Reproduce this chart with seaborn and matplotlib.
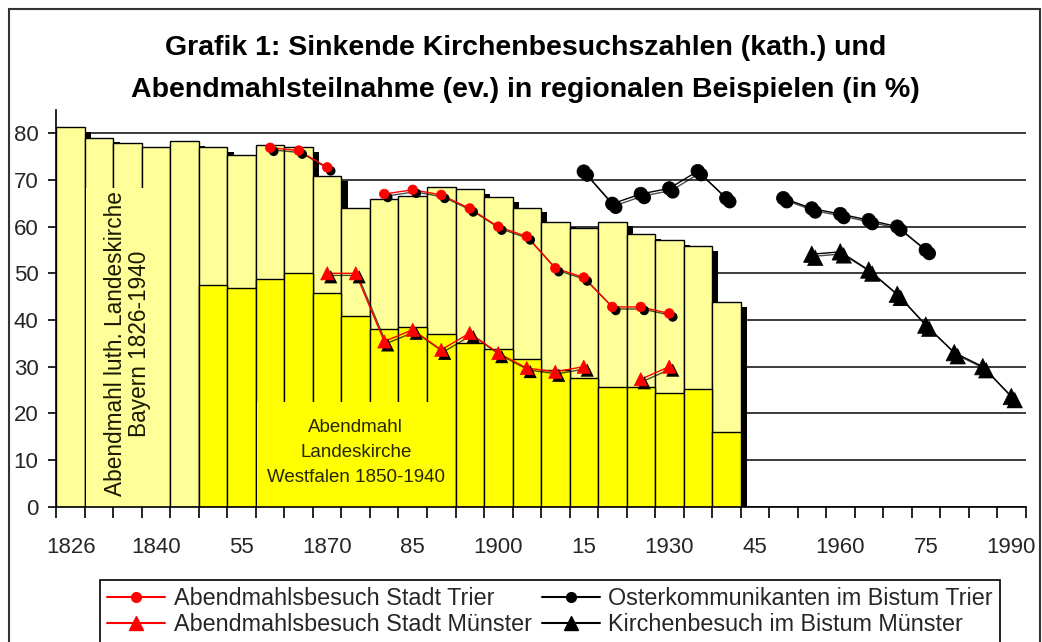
import matplotlib
matplotlib.use("Agg")
import matplotlib.pyplot as plt
import matplotlib.patheffects as pe
from matplotlib.lines import Line2D
from matplotlib.patches import Rectangle
import numpy as np
import pandas as pd
import seaborn as sns

# ---------------- data ----------------
categories = [1826, 1830, 1835, 1840, 1845, 1850, 1855, 1860, 1865, 1870, 1875,
              1880, 1885, 1890, 1895, 1900, 1905, 1910, 1915, 1920, 1925, 1930,
              1935, 1940, 1945, 1950, 1955, 1960, 1965, 1970, 1975, 1980, 1985, 1990]
tick_years = [1826, 1840, 1855, 1870, 1885, 1900, 1915, 1930, 1945, 1960, 1975, 1990]
tick_labels = ["1826", "1840", "55", "1870", "85", "1900", "15", "1930", "45", "1960", "75", "1990"]

bayern_years = [1826, 1830, 1835, 1840, 1845, 1850, 1855, 1860, 1865, 1870, 1875, 1880,
                1885, 1890, 1895, 1900, 1905, 1910, 1915, 1920, 1925, 1930, 1935, 1940]
bayern_vals = [81.4, 79.1, 78.0, 77.0, 78.4, 77.0, 75.4, 77.5, 77.0, 70.9, 64.1, 65.9,
               66.6, 68.4, 68.0, 66.3, 64.1, 60.9, 59.8, 61.1, 58.4, 57.1, 55.9, 43.9]

westfalen_years = [1850, 1855, 1860, 1865, 1870, 1875, 1880, 1885, 1890, 1895, 1900,
                   1905, 1910, 1915, 1920, 1925, 1930, 1935, 1940]
westfalen_vals = [47.4, 46.9, 48.7, 50.0, 45.7, 40.9, 38.0, 38.4, 37.1, 35.0, 33.7,
                  31.6, 29.3, 27.6, 25.6, 25.6, 24.3, 25.2, 16.1]

trier_ab_years = [1860, 1865, 1870, 1875, 1880, 1885, 1890, 1895, 1900, 1905, 1910,
                  1915, 1920, 1925, 1930]
trier_ab_vals = [76.9, 76.3, 72.7, np.nan, 67.0, 67.9, 66.8, 63.9, 60.0, 57.9, 51.1,
                 49.1, 42.8, 42.8, 41.4]

muenster_ab_years = [1870, 1875, 1880, 1885, 1890, 1895, 1900, 1905, 1910, 1915, 1920,
                     1925, 1930]
muenster_ab_vals = [50.0, 50.0, 35.4, 37.9, 33.6, 37.2, 32.9, 29.7, 28.9, 30.0, np.nan,
                    27.3, 30.0]

oster_years = [1915, 1920, 1925, 1930, 1935, 1940, 1945, 1950, 1955, 1960, 1965, 1970, 1975]
oster_vals = [71.8, 64.9, 67.0, 68.2, 71.9, 66.1, np.nan, 66.1, 63.9, 62.7, 61.4, 60.0, 55.0]

kirch_years = [1955, 1960, 1965, 1970, 1975, 1980, 1985, 1990]
kirch_vals = [54.1, 54.6, 50.7, 45.5, 38.9, 33.0, 30.0, 23.6]

legend_labels = ["Abendmahlsbesuch Stadt Trier", "Abendmahlsbesuch Stadt Münster",
                 "Osterkommunikanten im Bistum Trier", "Kirchenbesuch im Bistum Münster"]
title_lines = ["Grafik 1: Sinkende Kirchenbesuchszahlen (kath.) und",
               "Abendmahlsteilnahme (ev.) in regionalen Beispielen (in %)"]
bayern_label = "Abendmahl luth. Landeskirche\nBayern 1826-1940"
westfalen_label = "Abendmahl\nLandeskirche\nWestfalen 1850-1940"

# ---------------- style ----------------
sns.set_style("white")
plt.rcParams["font.family"] = ["Liberation Sans", "DejaVu Sans"]

fig = plt.figure(figsize=(10.42, 6.42), dpi=100)
ax = fig.add_axes([0.0542, 0.2108, 0.9300, 0.6179])

pos = {y: i for i, y in enumerate(categories)}

# bars: Bayern (light yellow, with shadow)
df_bay = pd.DataFrame({"x": [pos[y] for y in bayern_years], "v": bayern_vals})
sns.barplot(data=df_bay, x="x", y="v", native_scale=True, orient="x", width=1,
            color="#FFFF99", saturation=1, edgecolor="black", linewidth=1,
            errorbar=None, ax=ax, zorder=2)
shadow = [pe.SimplePatchShadow(offset=(4.5, -3.5), shadow_rgbFace="black", alpha=1),
          pe.Normal()]
for p in ax.patches:
    p.set_path_effects(shadow)

# bars: Westfalen (yellow)
df_wf = pd.DataFrame({"x": [pos[y] for y in westfalen_years], "v": westfalen_vals})
sns.barplot(data=df_wf, x="x", y="v", native_scale=True, orient="x", width=1,
            color="#FFFF00", saturation=1, edgecolor="black", linewidth=1,
            errorbar=None, ax=ax, zorder=3)


def draw_series(years, vals, color, marker, size):
    d = pd.DataFrame({"x": [pos[y] for y in years], "v": vals})
    d["seg"] = d["v"].isna().cumsum()
    d = d.dropna()
    n0 = len(ax.lines)
    sns.lineplot(data=d, x="x", y="v", units="seg", estimator=None, color=color,
                 linewidth=1.0, ax=ax, legend=False, zorder=5)
    for ln in ax.lines[n0:]:
        ln.set_path_effects([pe.SimpleLineShadow(offset=(1.5, -1.5), shadow_color="black",
                                                 alpha=0.7), pe.Normal()])
    n1 = len(ax.collections)
    sns.scatterplot(data=d, x="x", y="v", marker=marker, s=size, color=color,
                    edgecolor=color, linewidth=0.5, ax=ax, legend=False, zorder=6)
    for c in ax.collections[n1:]:
        c.set_path_effects([pe.SimplePatchShadow(offset=(2.5, -2.5), shadow_rgbFace="black",
                                                 alpha=1), pe.Normal()])


draw_series(trier_ab_years, trier_ab_vals, "#FF0000", "o", 48)
draw_series(muenster_ab_years, muenster_ab_vals, "#FF0000", "^", 90)
draw_series(oster_years, oster_vals, "black", "o", 95)
draw_series(kirch_years, kirch_vals, "black", "^", 140)

# label boxes
ax.add_patch(Rectangle((pos[1830] - 0.45, 0), 2.9, 68.3, facecolor="#FFFF99",
                       edgecolor="none", zorder=3.5))
ax.text(pos[1835], 34.9, bayern_label, rotation=90, ha="center", va="center",
        multialignment="center", fontsize=16.3, linespacing=1.05, color="#1a1a00", zorder=4)
ax.add_patch(Rectangle((pos[1855] + 0.55, 0), 6.9, 22.4, facecolor="#FFFF00",
                       edgecolor="none", zorder=3.5))
ax.text(pos[1875], 11.6, westfalen_label, ha="center", va="center",
        multialignment="center", fontsize=13.5, linespacing=1.6, color="#262600", zorder=4)

# axes
ax.set_xlim(-0.5, len(categories) - 0.5)
ax.set_ylim(0, 85)
ax.set_xlabel("")
ax.set_ylabel("")
ax.set_xticks(np.arange(-0.5, len(categories), 1.0))
ax.set_xticklabels([])
ax.set_xticks([pos[y] for y in tick_years], minor=True)
ax.set_xticklabels(tick_labels, minor=True, fontsize=16)
ax.tick_params(axis="x", which="major", length=8, width=1.2, direction="out",
               color="black", bottom=True)
ax.tick_params(axis="x", which="minor", length=0, pad=22, bottom=True)
ax.set_yticks(range(0, 90, 10))
ax.tick_params(axis="y", length=6, width=1.2, direction="out", labelsize=16, pad=7,
               color="black", left=True)
ax.grid(axis="y", color="#1a1a1a", linewidth=1.2)
ax.grid(axis="x", visible=False)
ax.set_axisbelow(True)
for s in ["top", "right"]:
    ax.spines[s].set_visible(False)
for s in ["left", "bottom"]:
    ax.spines[s].set_color("black")
    ax.spines[s].set_linewidth(1.2)
    ax.spines[s].set_zorder(7)

# legend
handles = [
    Line2D([], [], color="red", lw=1.5, marker="o", markersize=7),
    Line2D([], [], color="red", lw=1.5, marker="^", markersize=10),
    Line2D([], [], color="black", lw=1.5, marker="o", markersize=7),
    Line2D([], [], color="black", lw=1.5, marker="^", markersize=10),
]
leg = fig.legend(handles=handles, labels=legend_labels, ncol=2, loc="upper left",
                 bbox_to_anchor=(0.096, -0.1034, 0.8637, 0.2), mode="expand",
                 borderaxespad=0, frameon=True, fancybox=False, edgecolor="black",
                 framealpha=1, fontsize=16.8, handlelength=2.5, handletextpad=0.35,
                 labelspacing=0.12, borderpad=0.3, columnspacing=1.0)
leg.get_frame().set_linewidth(1.2)

# title
fig.text(0.504, 1 - 48 / 642, title_lines[0], ha="center", va="center",
         fontsize=20.5, fontweight="bold", color="black")
fig.text(0.504, 1 - 90 / 642, title_lines[1], ha="center", va="center",
         fontsize=20.5, fontweight="bold", color="black")

# outer frame
fig.add_artist(Rectangle((9 / 1042, -0.05), 1031 / 1042, 1 - 9 / 642 + 0.05,
                         transform=fig.transFigure, fill=False, edgecolor="#333333",
                         linewidth=1.5))

fig.savefig("out.png", dpi=100)
